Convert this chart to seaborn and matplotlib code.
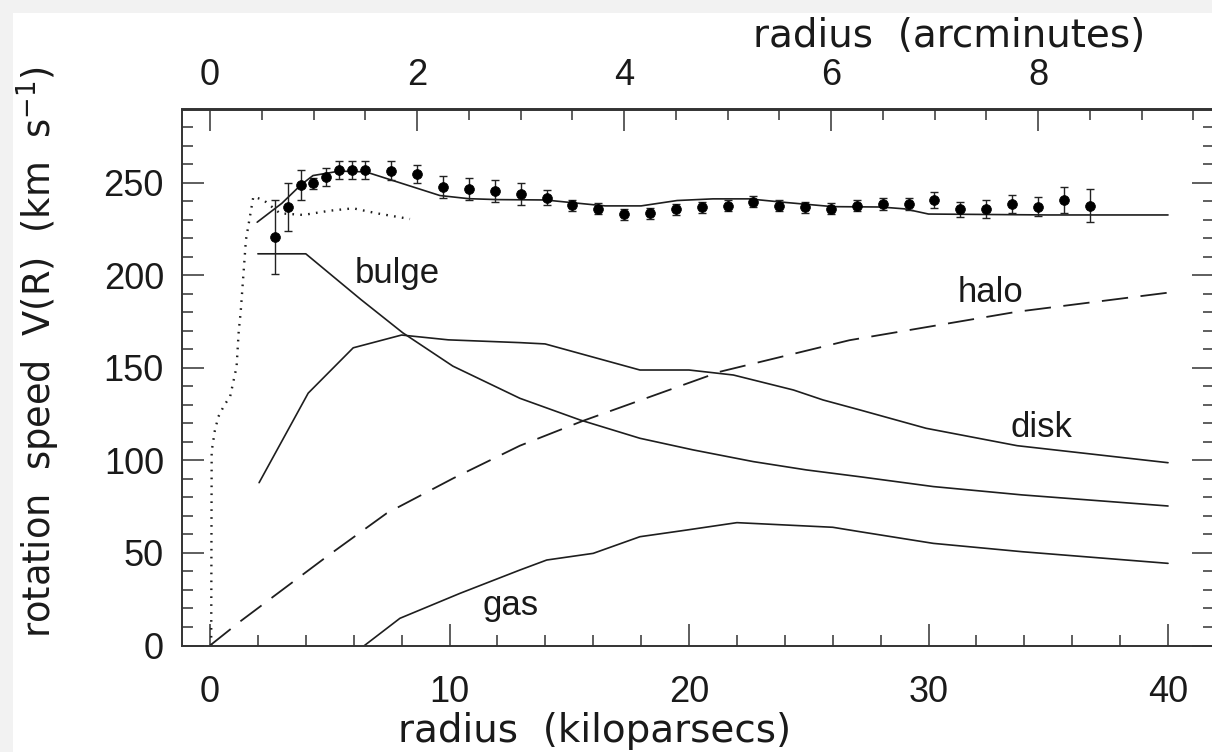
import numpy as np
import pandas as pd
import seaborn as sns
import matplotlib.pyplot as plt
from matplotlib.patches import Rectangle
from matplotlib.ticker import MultipleLocator

# observed rotation speeds (kpc, km/s, error)
obs_r = [2.70, 3.24, 3.78, 4.32, 4.86, 5.40, 5.94, 6.48,
         7.56, 8.64, 9.72, 10.80, 11.90, 12.97, 14.05, 15.13, 16.21, 17.29,
         18.37, 19.45, 20.53, 21.61, 22.69, 23.77, 24.85, 25.93, 27.01, 28.09,
         29.17, 30.25, 31.33, 32.41, 33.49, 34.57, 35.65, 36.73]
obs_v = [221.0, 237.2, 248.9, 249.8, 253.1, 257.0, 257.0, 257.0,
         256.6, 254.9, 247.7, 246.6, 245.8, 243.9, 242.0, 238.0, 236.0, 233.0,
         233.6, 235.8, 236.9, 237.6, 239.9, 237.6, 236.9, 236.0, 237.6, 238.6,
         238.6, 240.8, 235.8, 236.0, 238.6, 237.2, 240.8, 237.7]
obs_err = [20, 13, 8, 3, 5, 5, 5, 5,
           5, 5, 6, 6, 6, 6, 4, 3, 3, 3,
           3, 3, 3, 3, 3, 3, 3, 3, 3, 3,
           3, 4.5, 4, 5, 5, 5, 7, 9]

# model components
total_r = [1.97, 3.0, 3.8, 4.3, 5.4, 6.5, 9.6, 10.8, 12.0, 14.0, 15.0, 16.5,
           18.0, 19.5, 21.0, 22.5, 24.0, 26.0, 28.0, 29.0, 30.0, 35.0, 40.0]
total_v = [228.8, 239.0, 249.0, 254.0, 256.4, 256.0, 243.2, 241.5, 241.0, 240.8,
           239.5, 237.6, 237.6, 240.5, 241.4, 241.4, 239.5, 237.2, 237.0, 236.0,
           233.2, 232.7, 232.7]

bulge_r = [2.0, 4.0, 6.3, 8.05, 10.14, 12.94, 15.45, 17.95, 20.18, 22.68,
           24.9, 27.14, 30.2, 33.9, 40.0]
bulge_v = [211.7, 211.7, 187.0, 169.0, 151.0, 133.6, 121.9, 112.0, 105.7, 99.4,
           94.9, 91.2, 85.9, 81.4, 75.4]

disk_r = [2.05, 4.1, 5.98, 8.0, 9.95, 12.94, 13.99, 17.95, 20.0, 21.85, 24.36,
          25.6, 27.14, 29.9, 33.7, 40.0]
disk_v = [88.0, 136.4, 160.9, 167.8, 165.2, 163.7, 163.0, 148.9, 148.9, 146.2,
          138.1, 132.7, 127.3, 117.4, 108.0, 98.8]

gas_r = [6.45, 7.93, 10.44, 12.94, 14.06, 16.0, 17.95, 19.9, 22.0, 26.0, 27.14,
         30.2, 33.9, 40.0]
gas_v = [0.0, 14.7, 28.2, 40.8, 46.2, 49.8, 58.8, 62.4, 66.4, 63.9, 61.5,
         55.2, 50.7, 44.4]

halo_r = [0.0, 1.25, 4.87, 7.38, 10.16, 12.94, 15.59, 21.3, 26.7, 33.7, 40.0]
halo_v = [0.0, 12.9, 48.0, 71.5, 90.4, 108.0, 121.5, 148.0, 165.0, 180.4, 190.7]

inner_r = [0.05, 0.07, 0.2, 0.35, 0.6, 0.84, 1.11, 1.2, 1.28, 1.5, 1.81, 2.23,
           2.92, 3.9, 5.0, 5.98, 6.96, 8.35]
inner_v = [0.0, 105.0, 116.0, 123.7, 130.0, 134.5, 150.7, 170.0, 180.0, 219.2,
           242.6, 240.8, 233.6, 232.7, 235.0, 236.3, 233.6, 230.5]

KPC_PER_ARCMIN = 4.322

sns.set_style('ticks')
plt.rcParams['lines.scale_dashes'] = False
plt.rcParams['mathtext.fontset'] = 'dejavusans'

W, H = 1212, 752
fig = plt.figure(figsize=(W / 100, H / 100), dpi=100)
fig.patch.set_facecolor('#f2f2f2')
fig.patches.append(Rectangle((13 / W, 0), 1, 1 - 13 / H, transform=fig.transFigure,
                             facecolor='white', edgecolor='none', zorder=-10))

ax = fig.add_axes([182 / W, 106.5 / H, (1214 - 182) / W, (645.5 - 109.5) / H])
ax.set_facecolor('white')

ink = '#1e1e1e'
for r, v in [(total_r, total_v), (bulge_r, bulge_v), (disk_r, disk_v), (gas_r, gas_v)]:
    sns.lineplot(x=r, y=v, ax=ax, color=ink, lw=1.2, sort=False, estimator=None)
sns.lineplot(x=halo_r, y=halo_v, ax=ax, color=ink, lw=1.3, sort=False,
             estimator=None, linestyle=(0, (19, 9)))
sns.lineplot(x=inner_r, y=inner_v, ax=ax, color=ink, lw=1.7, sort=False,
             estimator=None, linestyle=(0, (1.2, 4.5)))

ax.errorbar(obs_r, obs_v, yerr=obs_err, fmt='none', ecolor='#222222',
            elinewidth=1.0, capsize=2.8, capthick=1.0, zorder=3)
sns.scatterplot(x=obs_r, y=obs_v, ax=ax, color='black', s=50, edgecolor='black',
                linewidth=0.5, zorder=4)

lab = dict(fontsize=25, family='Liberation Sans', color='#1a1a1a')
ax.text(7.8, 195.8, 'bulge', ha='center', va='baseline', **lab)
ax.text(32.6, 185.8, 'halo', ha='center', va='baseline', **lab)
ax.text(34.7, 112.9, 'disk', ha='center', va='baseline', **lab)
ax.text(12.57, 16.5, 'gas', ha='center', va='baseline', **lab)

ax.set_xlim(-1.169, 41.92)
ax.set_ylim(0, 289.7)
ax.xaxis.set_major_locator(MultipleLocator(10))
ax.xaxis.set_minor_locator(MultipleLocator(2))
ax.yaxis.set_major_locator(MultipleLocator(50))
ax.yaxis.set_minor_locator(MultipleLocator(10))
ax.tick_params(which='both', direction='in', right=True, color='#333333', width=1.1)
ax.tick_params(which='major', length=15.8)
ax.tick_params(which='minor', length=8)
ax.tick_params(axis='x', which='major', pad=21)
ax.tick_params(axis='y', which='major', pad=13)
for lbl in ax.get_xticklabels() + ax.get_yticklabels():
    lbl.set_fontsize(26)
    lbl.set_family('Liberation Sans')
    lbl.set_color('#1a1a1a')
for sp in ax.spines.values():
    sp.set_linewidth(1.4)
    sp.set_color('#333333')

top = ax.secondary_xaxis('top', functions=(lambda k: k / KPC_PER_ARCMIN,
                                           lambda a: a * KPC_PER_ARCMIN))
top.xaxis.set_major_locator(MultipleLocator(2))
top.xaxis.set_minor_locator(MultipleLocator(0.5))
top.tick_params(which='both', direction='in', color='#333333', width=1.1)
top.tick_params(which='major', length=15.8, pad=12)
top.tick_params(which='minor', length=8)
top.spines['top'].set_linewidth(1.4)
top.spines['top'].set_color('#333333')
for lbl in top.get_xticklabels():
    lbl.set_fontsize(26)
    lbl.set_family('Liberation Sans')
    lbl.set_color('#1a1a1a')

hl = dict(family='DejaVu Sans', color='#1a1a1a')
fig.text(594.5 / W, 1 - 731 / H, 'radius  (kiloparsecs)', ha='center', va='center',
         fontsize=28, **hl)
fig.text(949 / W, 1 - 36 / H, 'radius  (arcminutes)', ha='center', va='center',
         fontsize=28, **hl)
fig.text(38 / W, 1 - 352 / H, r'rotation  speed  V(R)  (km  s$^{-1}$)',
         rotation=90, ha='center', va='center', fontsize=26.5, **hl)

fig.savefig('out.png', dpi=100)
